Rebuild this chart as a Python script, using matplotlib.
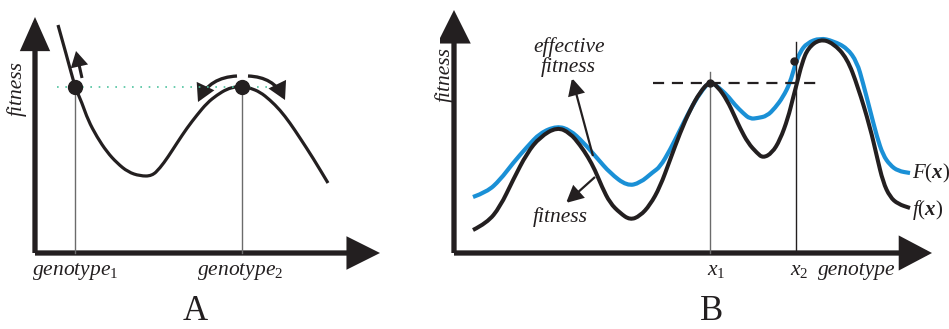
import matplotlib.pyplot as plt
from matplotlib.patches import FancyArrowPatch, PathPatch
from matplotlib.path import Path

plt.rcParams['font.family'] = ['Liberation Serif', 'DejaVu Serif']
plt.rcParams['mathtext.fontset'] = 'custom'
plt.rcParams['mathtext.rm'] = 'Liberation Serif'
plt.rcParams['mathtext.it'] = 'Liberation Serif:italic'
plt.rcParams['mathtext.bf'] = 'Liberation Serif:italic:bold'

ink = '#231f20'
blue = '#1a90d6'

# --- panel A: single landscape, two genotypes of equal fitness
a_x = [23, 32, 40, 47, 53, 62, 72, 82, 93, 105, 117, 125, 133, 142, 152,
       162, 172, 182, 192, 200, 207, 215, 225, 235, 245, 255, 265, 278, 293]
a_y = [228, 196, 166, 150, 133, 116, 101, 90, 81, 77, 77, 85, 96, 110, 125,
       138, 150, 158, 164, 166, 167, 165, 161, 153, 143, 130, 115, 95, 70]
geno_x = [40, 207]
geno_fit = 166

# --- panel B: fitness f(x) and effective fitness F(x)
f_x = [19, 33, 46, 59, 73, 86, 103, 116, 126, 134, 141, 148, 156, 166, 176,
       186, 196, 206, 216, 226, 236, 246, 256, 264, 273, 281, 286, 294, 303,
       309, 318, 326, 334, 339, 343, 348, 354, 366, 379, 393, 404, 416, 423,
       429, 436, 444, 456]
f_y = [23, 30, 46, 73, 100, 116, 126, 120, 108, 96, 83, 66, 50, 40, 33,
       37, 48, 66, 93, 120, 143, 161, 172, 166, 153, 136, 125, 110, 100,
       95, 100, 113, 135, 155, 170, 190, 205, 214, 210, 195, 166, 126, 96,
       71, 56, 49, 45]
F_x = [19, 33, 46, 59, 73, 86, 103, 116, 129, 143, 156, 173, 186, 199, 206,
       216, 226, 236, 246, 256, 264, 273, 281, 289, 296, 304, 313, 321, 329,
       336, 341, 346, 353, 366, 379, 393, 403, 409, 416, 423, 429, 436, 444, 456]
F_y = [56, 61, 73, 90, 106, 120, 127, 123, 111, 95, 80, 67, 70, 81, 86,
       103, 123, 143, 160, 172, 166, 158, 148, 140, 134, 135, 137, 145, 156,
       170, 188, 201, 210, 215, 212, 205, 191, 170, 143, 116, 98, 88, 82, 80]
x1, x2 = 256, 342
x1_fit = 170
x2_F = 192


def smooth_line(ax, xs, ys, **kw):
    # quadratic Bezier through midpoints, with the points as controls
    pts = list(zip(xs, ys))
    verts = [pts[0]]
    codes = [Path.MOVETO]
    for i in range(1, len(pts) - 1):
        mid = ((pts[i][0] + pts[i + 1][0]) / 2, (pts[i][1] + pts[i + 1][1]) / 2)
        verts += [pts[i], mid]
        codes += [Path.CURVE3, Path.CURVE3]
    verts.append(pts[-1])
    codes.append(Path.LINETO)
    ax.add_patch(PathPatch(Path(verts, codes), fill=False, capstyle='butt',
                           joinstyle='round', **kw))


def arrow(ax, p0, p1, lw, hl, hw, rad=0.0):
    style = '-|>,head_length=%g,head_width=%g' % (hl, hw)
    ax.add_patch(FancyArrowPatch(p0, p1, arrowstyle=style, mutation_scale=1,
                                 lw=lw, color=ink, shrinkA=0, shrinkB=0,
                                 connectionstyle='arc3,rad=%g' % rad,
                                 joinstyle='miter', capstyle='butt'))


fig = plt.figure(figsize=(9.49, 3.29), dpi=100)
axA = fig.add_axes([0, 0, 440 / 949, 1])
axA.set_xlim(-35, 405)
axA.set_ylim(-76, 253)
axB = fig.add_axes([440 / 949, 0, 509 / 949, 1])
axB.set_xlim(-14, 495)
axB.set_ylim(-76, 253)
for ax in (axA, axB):
    ax.axis('off')

tfont = dict(style='italic', fontsize=15.5, color=ink)

# A
for gx in geno_x:
    axA.plot([gx, gx], [0, geno_fit], color='#6b6b6b', lw=1)
axA.plot([22, 237], [geno_fit, geno_fit], color='#4fc4a0', lw=1.2,
         ls=(0, (1, 4)))
smooth_line(axA, a_x, a_y, color=ink, lw=2.3)
axA.plot(geno_x, [geno_fit] * 2, 'o', color=ink, ms=10)
arrow(axA, (0, 0), (0, 236), 3.8, 18, 8)
arrow(axA, (0, 0), (345, 0), 3.8, 18, 9)
arrow(axA, (47, 175), (41, 202), 2.2, 8, 4.5)
arrow(axA, (202, 177), (163, 151), 2.4, 9, 5, rad=0.3)
arrow(axA, (213, 177), (250, 153), 2.4, 9, 5, rad=-0.3)
axA.text(-18, 165, 'fitness', rotation=90, ha='center', va='center', **tfont)
axA.text(-3, -22, r'$genotype_1$', ha='left', va='baseline', fontsize=15.5,
         color=ink)
axA.text(162, -22, r'$genotype_2$', ha='left', va='baseline', fontsize=15.5,
         color=ink)
axA.text(160, -67, 'A', ha='center', va='baseline', fontsize=25, color=ink)

# B
axB.plot([x1, x1], [0, 181], color='#6b6b6b', lw=1)
axB.plot([x2, x2], [0, 211], color=ink, lw=1)
axB.plot([199, 366], [x1_fit, x1_fit], color=ink, lw=1.6, ls=(0, (5, 3.5)))
smooth_line(axB, F_x, F_y, color=blue, lw=3)
smooth_line(axB, f_x, f_y, color=ink, lw=2.9)
axB.plot([x1, x2 - 2], [x1_fit, x2_F], 'o', color=ink, ms=5)
arrow(axB, (0, 0), (0, 243), 3.8, 18, 9)
arrow(axB, (0, 0), (478, 0), 3.8, 18, 9.5)
arrow(axB, (139, 97), (118, 175), 1.6, 10, 5)
arrow(axB, (141, 76), (112, 50), 1.6, 10, 5)
axB.text(-9, 178, 'fitness', rotation=90, ha='center', va='center', **tfont)
axB.text(115, 206, 'effective', ha='center', va='center', **tfont)
axB.text(114, 186, 'fitness', ha='center', va='center', **tfont)
axB.text(106, 36, 'fitness', ha='center', va='center', **tfont)
axB.text(458, 80, r'$F(\mathbf{x})$', ha='left', va='center', fontsize=15,
         color=ink, clip_on=False)
axB.text(458, 43, r'$f(\mathbf{x})$', ha='left', va='center', fontsize=15,
         color=ink, clip_on=False)
axB.text(253, -22, r'$x_1$', ha='left', va='baseline', fontsize=15.5, color=ink)
axB.text(336, -22, r'$x_2$', ha='left', va='baseline', fontsize=15.5, color=ink)
axB.text(364, -22, 'genotype', ha='left', va='baseline', **tfont)
axB.text(258, -67, 'B', ha='center', va='baseline', fontsize=25, color=ink)

fig.savefig('out.png', dpi=100)
